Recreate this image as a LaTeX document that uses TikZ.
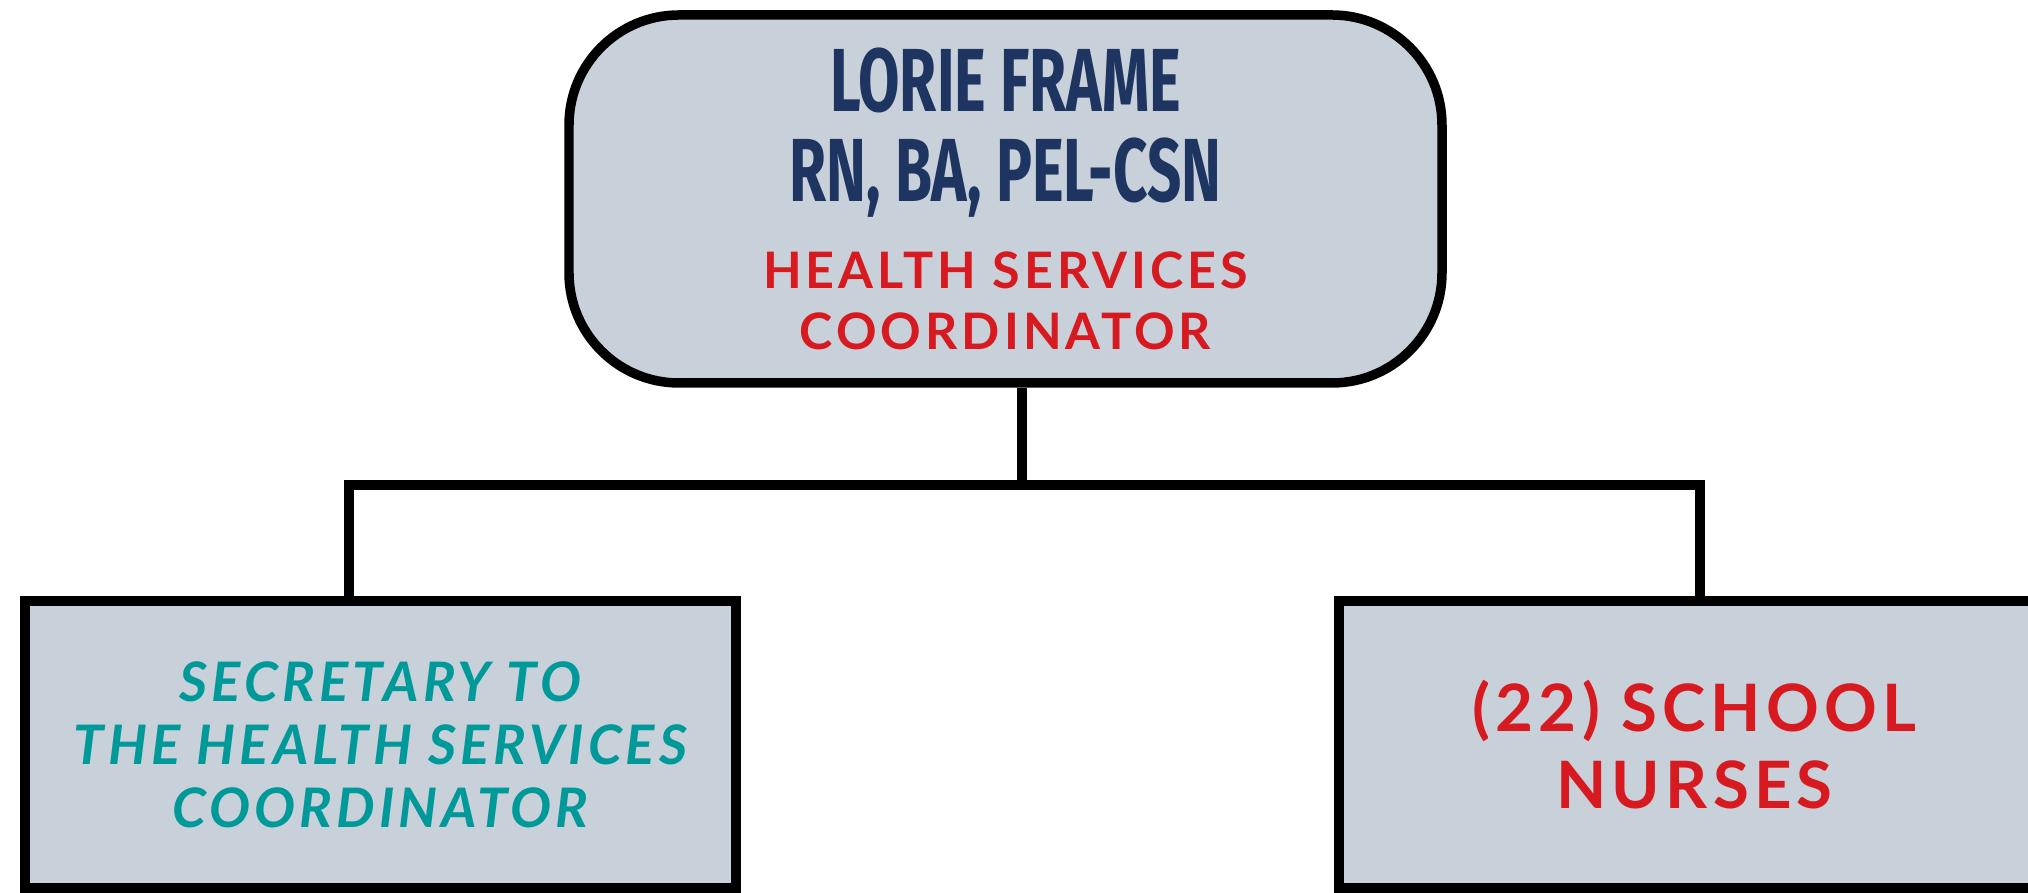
\documentclass[tikz,border=0pt]{standalone}
\usepackage{fontspec}
\setmainfont{Lato}
\newfontfamily\namefont[FakeStretch=0.67]{Fira Sans}
\newfontfamily\titlefont[LetterSpace=8]{Lato}
\newfontfamily\secfont[LetterSpace=7.5]{Lato}
\definecolor{boxfill}{HTML}{C8D0D9}
\definecolor{navy}{HTML}{1E3461}
\definecolor{titlered}{HTML}{D71920}
\definecolor{teal}{HTML}{00999A}

\begin{document}
\begin{tikzpicture}[
  box/.style={draw=black, fill=boxfill, line width=2.7pt, align=center,
    minimum width=7.11cm, minimum height=2.87cm, inner sep=0pt},
  lead/.style={box, rounded corners=1.1cm,
    minimum width=8.73cm, minimum height=3.68cm,
    font=\fontsize{15}{25.6pt}\selectfont},
  link/.style={draw=black, line width=2.7pt, line join=miter}]

  \useasboundingbox (0,0) rectangle (20.28,8.93);
  \clip (0,0) rectangle (20.28,8.93);

  % Boxes
  \node [lead] (coordinator) at (10.055,6.94) {%
    {\namefont\bfseries\color{navy}\fontsize{25.5}{25.5}\selectfont LORIE FRAME}\\
    {\namefont\bfseries\color{navy}\fontsize{25.5}{25.5}\selectfont RN, BA, PEL-CSN}\\[-0.8pt]
    {\titlefont\bfseries\color{titlered}\fontsize{14.3}{14.3}\selectfont HEALTH SERVICES}\\[-8.3pt]
    {\titlefont\bfseries\color{titlered}\fontsize{14.3}{14.3}\selectfont COORDINATOR}};

  \node [box, text=teal, font=\secfont\bfseries\itshape\fontsize{15.5}{17.9pt}\selectfont]
    (secretary) at (3.805,1.485)
    {SECRETARY TO\\THE HEALTH SERVICES\\COORDINATOR};

  \node [box, text=titlered, font=\titlefont\bfseries\fontsize{18.6}{21.9pt}\selectfont]
    (nurses) at (16.945,1.485)
    {(22) SCHOOL\\NURSES};

  % Connectors
  \coordinate (split) at (10.22,4.08);
  \coordinate (secdrop) at (3.49,4.08);
  \coordinate (nursedrop) at (17.00,4.08);

  \draw [link] (coordinator.south -| split) -- (split);
  \draw [link] (secretary.north -| secdrop) -- (secdrop) -- (nursedrop)
    -- (nurses.north -| nursedrop);

\end{tikzpicture}
\end{document}
